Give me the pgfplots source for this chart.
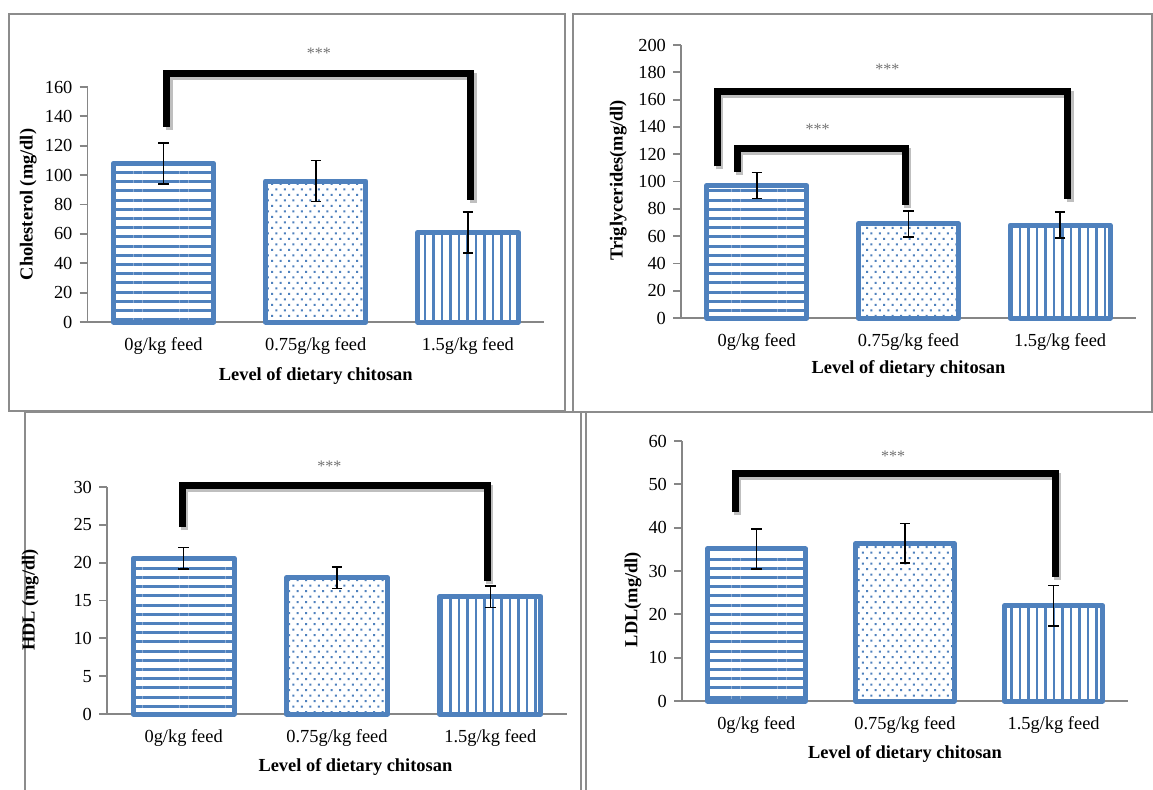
\documentclass[border=0pt]{standalone}
\usepackage{pgfplots}
\pgfplotsset{compat=1.18}
\usepackage{fontspec}
\setmainfont{Liberation Serif}
\usetikzlibrary{patterns,patterns.meta}
\definecolor{barblue}{HTML}{4F81BD}
\definecolor{axgray}{HTML}{868686}
\definecolor{framegray}{HTML}{8C8C8C}
\pgfdeclarepatternformonly{mydots}{\pgfqpoint{-0.6pt}{-0.6pt}}{\pgfqpoint{3.7pt}{5pt}}{\pgfqpoint{4.25pt}{5.5pt}}{%
  \pgfpathrectangle{\pgfqpoint{-0.5pt}{-0.5pt}}{\pgfqpoint{1pt}{1pt}}%
  \pgfpathrectangle{\pgfqpoint{1.625pt}{2.25pt}}{\pgfqpoint{1pt}{1pt}}%
  \pgfusepath{fill}%
}
\tikzset{stars/.style={font=\fontsize{8}{9}\selectfont, text=black!55}}
\pgfplotsset{
  panel/.style={
    scale only axis, anchor=south west,
    ybar, xmin=-0.5, xmax=2.5, ymin=0,
    xtick={0,1,2},
    xticklabels={0g/kg feed, 0.75g/kg feed, 1.5g/kg feed},
    axis lines=left,
    axis line style={-, draw=axgray, line width=0.9pt},
    xtick style={draw=none},
    ytick style={draw=axgray, line width=0.9pt},
    tick align=outside, major tick length=4pt,
    tick label style={font=\fontsize{9.2}{11}\selectfont, text=black},
    xticklabel style={yshift=0pt},
    label style={font=\bfseries\fontsize{9.2}{11}\selectfont},
    xlabel style={yshift=-1pt},
    /pgf/number format/assume math mode=true,
    clip=false,
  },
  bars/.style={bar width=0.66, bar shift=0pt, draw=barblue, line width=2.5pt, line join=round},
  bar1/.style={bars, pattern={Lines[angle=0,distance=4.6pt,line width=1.5pt]}, pattern color=barblue},
  bar2/.style={bars, pattern=mydots, pattern color=barblue},
  bar3/.style={bars, pattern={Lines[angle=90,distance=4.25pt,line width=1.35pt]}, pattern color=barblue},
  eb/.style={error bars/.cd, y dir=both, y explicit,
    error bar style={black, line width=0.8pt},
    error mark options={rotate=90, black, mark size=2.6pt, line width=0.8pt}},
  brk/.style={sharp plot, no marks, black, line width=3.5pt, line join=miter, forget plot},
  brks/.style={sharp plot, no marks, black!25, line width=3.5pt, forget plot, xshift=1.2pt, yshift=-1.5pt},
}
\begin{document}
\begin{tikzpicture}
\useasboundingbox (0,0) rectangle (576.5pt,-394.5pt);
\fill[white] (0,0) rectangle (576.5pt,-394.5pt);
% panel frames
\draw[framegray, line width=1pt] (4.5pt,-7pt) rectangle (282.5pt,-205.5pt);
\draw[framegray, line width=1pt] (286.5pt,-7pt) rectangle (576pt,-206pt);
\draw[framegray, line width=1pt] (12.5pt,-206pt) rectangle (290.5pt,-400pt);
\draw[framegray, line width=1pt] (293pt,-206pt) rectangle (580pt,-400pt);

% ---------- Panel 1: Cholesterol ----------
\begin{axis}[panel, at={(43.75pt,-161pt)}, width=228.25pt, height=117.5pt,
  ymax=160, ytick={0,20,...,160},
  ylabel={Cholesterol (mg/dl)},
  ylabel style={at={(axis description cs:-0.13,0.5)}, anchor=center},
  xlabel={Level of dietary chitosan},
  xlabel style={at={(axis description cs:0.5,-0.22)}, anchor=center}]
\addplot[bar1, eb] coordinates {(0,108) +- (0,14)};
\addplot[bar2, eb] coordinates {(1,96) +- (0,14)};
\addplot[bar3, eb] coordinates {(2,61) +- (0,14)};
\addplot[brks] coordinates {(0.02,133) (0.02,169) (2.02,169) (2.02,83)};
\addplot[brk] coordinates {(0.02,133) (0.02,169) (2.02,169) (2.02,83)};
\node[stars] at (axis cs:1.02,183) {***};
\end{axis}

% ---------- Panel 2: Triglycerides ----------
\begin{axis}[panel, at={(340.5pt,-159pt)}, width=227.5pt, height=136.5pt,
  ymax=200, ytick={0,20,...,200},
  ylabel={Triglycerides(mg/dl)},
  ylabel style={at={(axis description cs:-0.138,0.505)}, anchor=center},
  xlabel={Level of dietary chitosan},
  xlabel style={at={(axis description cs:0.5,-0.179)}, anchor=center}]
\addplot[bar1, eb] coordinates {(0,97) +- (0,9.5)};
\addplot[bar2, eb] coordinates {(1,69) +- (0,9.5)};
\addplot[bar3, eb] coordinates {(2,68) +- (0,9.5)};
\addplot[brks] coordinates {(-0.26,111) (-0.26,166) (2.05,166) (2.05,87)};
\addplot[brk] coordinates {(-0.26,111) (-0.26,166) (2.05,166) (2.05,87)};
\addplot[brks] coordinates {(-0.13,107) (-0.13,124.5) (0.98,124.5) (0.98,83)};
\addplot[brk] coordinates {(-0.13,107) (-0.13,124.5) (0.98,124.5) (0.98,83)};
\node[stars] at (axis cs:0.40,138) {***};
\node[stars] at (axis cs:0.86,182) {***};
\end{axis}

% ---------- Panel 3: HDL ----------
\begin{axis}[panel, at={(53.5pt,-357pt)}, width=230pt, height=113.5pt,
  ymax=30, ytick={0,5,...,30},
  ylabel={HDL (mg/dl)},
  ylabel style={at={(axis description cs:-0.167,0.502)}, anchor=center},
  xlabel={Level of dietary chitosan},
  xlabel style={at={(axis description cs:0.54,-0.225)}, anchor=center}]
\addplot[bar1, eb] coordinates {(0,20.6) +- (0,1.4)};
\addplot[bar2, eb] coordinates {(1,18.0) +- (0,1.4)};
\addplot[bar3, eb] coordinates {(2,15.5) +- (0,1.4)};
\addplot[brks] coordinates {(-0.01,24.7) (-0.01,30.25) (1.98,30.25) (1.98,17.6)};
\addplot[brk] coordinates {(-0.01,24.7) (-0.01,30.25) (1.98,30.25) (1.98,17.6)};
\node[stars] at (axis cs:0.95,32.8) {***};
\end{axis}

% ---------- Panel 4: LDL ----------
\begin{axis}[panel, at={(341pt,-350.5pt)}, width=223pt, height=130pt,
  ymax=60, ytick={0,10,...,60},
  ylabel={LDL(mg/dl)},
  ylabel style={at={(axis description cs:-0.11,0.39)}, anchor=center},
  xlabel={Level of dietary chitosan},
  xlabel style={at={(axis description cs:0.5,-0.196)}, anchor=center}]
\addplot[bar1, eb] coordinates {(0,35.1) +- (0,4.6)};
\addplot[bar2, eb] coordinates {(1,36.4) +- (0,4.6)};
\addplot[bar3, eb] coordinates {(2,22.0) +- (0,4.7)};
\addplot[brks] coordinates {(-0.14,43.6) (-0.14,52.6) (2.01,52.6) (2.01,28.6)};
\addplot[brk] coordinates {(-0.14,43.6) (-0.14,52.6) (2.01,52.6) (2.01,28.6)};
\node[stars] at (axis cs:0.92,56.5) {***};
\end{axis}
\end{tikzpicture}
\end{document}
